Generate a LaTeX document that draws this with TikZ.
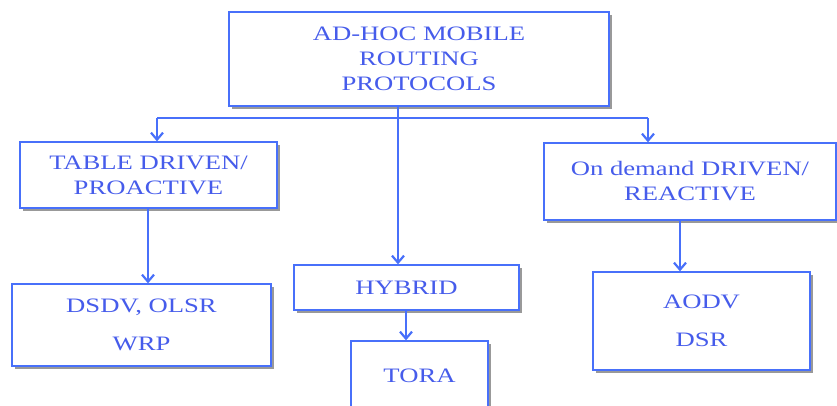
\documentclass[tikz,border=0pt]{standalone}
\usepackage{fontspec}
\setmainfont[FakeStretch=1.3]{Liberation Serif}
\usetikzlibrary{arrows.meta,shadows}
\definecolor{routeblue}{RGB}{72,112,250}
\definecolor{labelblue}{RGB}{70,92,235}

\begin{document}
\begin{tikzpicture}[x=1pt,y=-1pt]
\tikzstyle{box}=[rectangle, draw=routeblue, line width=1.3pt, fill=white, drop shadow={shadow xshift=2.5pt, shadow yshift=-2.5pt, fill=black!40, opacity=1}, text=labelblue, align=center, font=\fontsize{20.5}{25}\selectfont, inner sep=0pt]
\tikzstyle{connect}=[-{Straight Barb[length=7pt,width=12pt]}, line width=2.2pt, draw=routeblue]
\tikzstyle{line}=[line width=2.2pt, draw=routeblue]

\useasboundingbox (0,0) rectangle (837,405);

  \node[box, minimum width=380pt, minimum height=94pt] (root)      at (419,59)    {AD-HOC MOBILE\\ROUTING\\PROTOCOLS};
  \node[box, minimum width=257pt, minimum height=66pt] (proactive) at (148.5,175) {TABLE DRIVEN/\\PROACTIVE};
  \node[box, minimum width=292pt, minimum height=77pt] (reactive)  at (690,181.5) {On demand DRIVEN/\\REACTIVE};
  \node[box, minimum width=225pt, minimum height=45pt] (hybrid)    at (406.5,287.5) {HYBRID};
  \node[box, minimum width=259pt, minimum height=82pt] (dsdv)      at (141.5,325) {DSDV, OLSR\\[13pt]WRP};
  \node[box, minimum width=217pt, minimum height=98pt] (aodv)      at (701.5,321) {AODV\\[13pt]DSR};
  \node[box, minimum width=137pt, minimum height=70pt] (tora)      at (419.5,376) {TORA};

  % branch points of the tree
  \coordinate (fork)  at (398,118);
  \coordinate (forkL) at (157,118);
  \coordinate (forkR) at (648,118);
  \coordinate (dropL) at (148,0);
  \coordinate (dropM) at (406,0);
  \coordinate (dropR) at (680,0);

  \draw[line] (forkL) -- (forkR);
  \draw[connect] (root.south -| fork) -- (hybrid.north -| fork);
  \draw[connect] (forkL) -- (forkL |- proactive.north);
  \draw[connect] (forkR) -- (forkR |- reactive.north);
  \draw[connect] (proactive.south -| dropL) -- (dsdv.north -| dropL);
  \draw[connect] (hybrid.south -| dropM) -- (tora.north -| dropM);
  \draw[connect] (reactive.south -| dropR) -- (aodv.north -| dropR);

\end{tikzpicture}
\end{document}
